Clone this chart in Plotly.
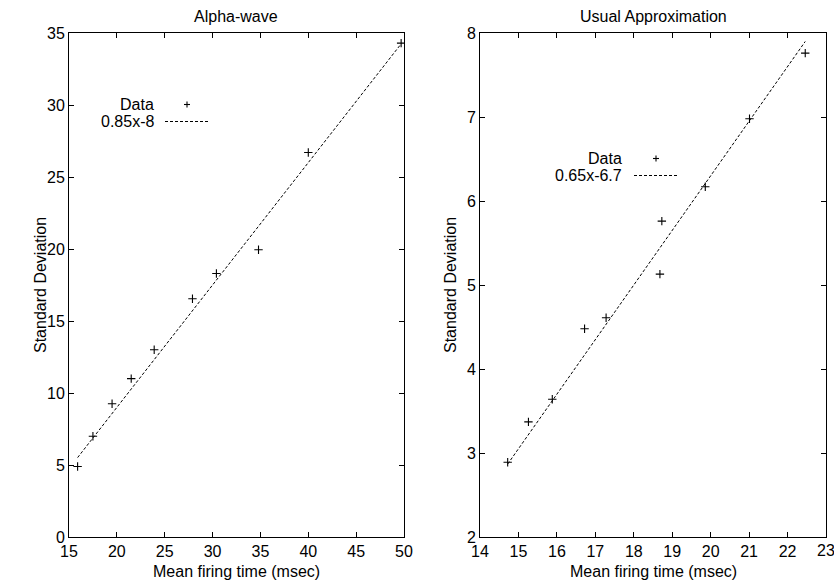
import plotly.graph_objects as go

# Left panel: Alpha-wave
alpha_mean = [15.9, 17.5, 19.5, 21.5, 23.9, 27.9, 30.4, 34.8, 40.0, 49.7]
alpha_std = [4.9, 7.0, 9.25, 11.0, 13.0, 16.55, 18.3, 19.95, 26.7, 34.3]
alpha_slope, alpha_icpt = 0.85, -8.0
alpha_label = "0.85x-8"

# Right panel: Usual Approximation
usual_mean = [14.72, 15.26, 15.88, 16.72, 17.28, 18.68, 18.73, 19.86, 21.01, 22.46]
usual_std = [2.89, 3.37, 3.64, 4.48, 4.61, 5.13, 5.76, 6.17, 6.98, 7.76]
usual_slope, usual_icpt = 0.65, -6.7
usual_label = "0.65x-6.7"

left_xticks = [15, 20, 25, 30, 35, 40, 45, 50]
left_yticks = [0, 5, 10, 15, 20, 25, 30, 35]
right_xticks = list(range(14, 24))
right_yticks = [2, 3, 4, 5, 6, 7, 8]

FONT = "Liberation Sans, Arial, Helvetica, sans-serif"
FS = 16
W, H = 834, 584

fig = go.Figure()

def fit_line(xs, m, b):
    x0, x1 = min(xs), max(xs)
    return [x0, x1], [m * x0 + b, m * x1 + b]

for xs, ys, m, b, xa, ya in [
    (alpha_mean, alpha_std, alpha_slope, alpha_icpt, "x", "y"),
    (usual_mean, usual_std, usual_slope, usual_icpt, "x2", "y2"),
]:
    fig.add_trace(go.Scatter(
        x=xs, y=ys, mode="markers", xaxis=xa, yaxis=ya,
        marker=dict(symbol="cross-thin", size=6, line=dict(width=1.1, color="black"), color="black"),
        showlegend=False, hoverinfo="skip"))
    lx, ly = fit_line(xs, m, b)
    fig.add_trace(go.Scatter(
        x=lx, y=ly, mode="lines", xaxis=xa, yaxis=ya,
        line=dict(color="black", width=1, dash="3px,2px"),
        showlegend=False, hoverinfo="skip"))

ydom = [1 - 537 / H, 1 - 33 / H]
axis_common = dict(
    showline=True, linecolor="black", linewidth=1, mirror="ticks",
    ticks="inside", ticklen=5, tickcolor="black", tickwidth=1,
    showgrid=False, zeroline=False, automargin=False,
    tickfont=dict(family=FONT, size=FS, color="black"),
)
fig.update_layout(
    width=W, height=H,
    margin=dict(l=0, r=0, t=0, b=0, pad=0, autoexpand=False),
    paper_bgcolor="white", plot_bgcolor="white",
    xaxis=dict(domain=[69 / W, 404 / W], range=[15, 50], tickvals=left_xticks,
               anchor="y", **axis_common),
    yaxis=dict(domain=ydom, range=[0, 35], tickvals=left_yticks, anchor="x", **axis_common),
    xaxis2=dict(domain=[480 / W, 826 / W], range=[14, 23], tickvals=right_xticks,
                anchor="y2", **axis_common),
    yaxis2=dict(domain=ydom, range=[2, 8], tickvals=right_yticks, anchor="x2", **axis_common),
    showlegend=False,
)

def text(x, y, s, **kw):
    d = dict(x=x, y=y, xref="paper", yref="paper", text=s, showarrow=False,
             xanchor="center", yanchor="middle",
             font=dict(family=FONT, size=FS, color="black"))
    d.update(kw)
    fig.add_annotation(**d)

# Last right-panel tick label runs off the page edge (plotly drops it), draw it explicitly
text(right_xticks[-1], 1 - 550 / H, str(right_xticks[-1]), xref="x2")

# Titles
text(236 / W, 1 - 17 / H, "Alpha-wave")
text(653 / W, 1 - 17 / H, "Usual Approximation")
# X axis titles
text(236 / W, 1 - 571 / H, "Mean firing time (msec)")
text(653 / W, 1 - 571 / H, "Mean firing time (msec)")
# Y axis titles
text(40 / W, 1 - 285 / H, "Standard Deviation", textangle=-90)
text(450 / W, 1 - 285 / H, "Standard Deviation", textangle=-90)

# Legends (MATLAB style: label then sample)
def legend(x_text_right, y_data, y_line, label, mx, lx0, lx1):
    text(x_text_right / W, 1 - y_data / H, "Data", xanchor="right")
    text(x_text_right / W, 1 - y_line / H, label, xanchor="right")
    fig.add_shape(type="line", xref="paper", yref="paper",
                  x0=(mx - 3) / W, x1=(mx + 3) / W, y0=1 - y_data / H, y1=1 - y_data / H,
                  line=dict(color="black", width=1.1))
    fig.add_shape(type="line", xref="paper", yref="paper",
                  x0=mx / W, x1=mx / W, y0=1 - (y_data - 3) / H, y1=1 - (y_data + 3) / H,
                  line=dict(color="black", width=1.1))
    fig.add_shape(type="line", xref="paper", yref="paper",
                  x0=lx0 / W, x1=lx1 / W, y0=1 - y_line / H, y1=1 - y_line / H,
                  line=dict(color="black", width=1, dash="3px,2px"))

legend(156, 104.5, 121.5, alpha_label, 187, 165, 210)
legend(624, 158.5, 175.5, usual_label, 656, 634, 678)

fig.write_html("out.html")
